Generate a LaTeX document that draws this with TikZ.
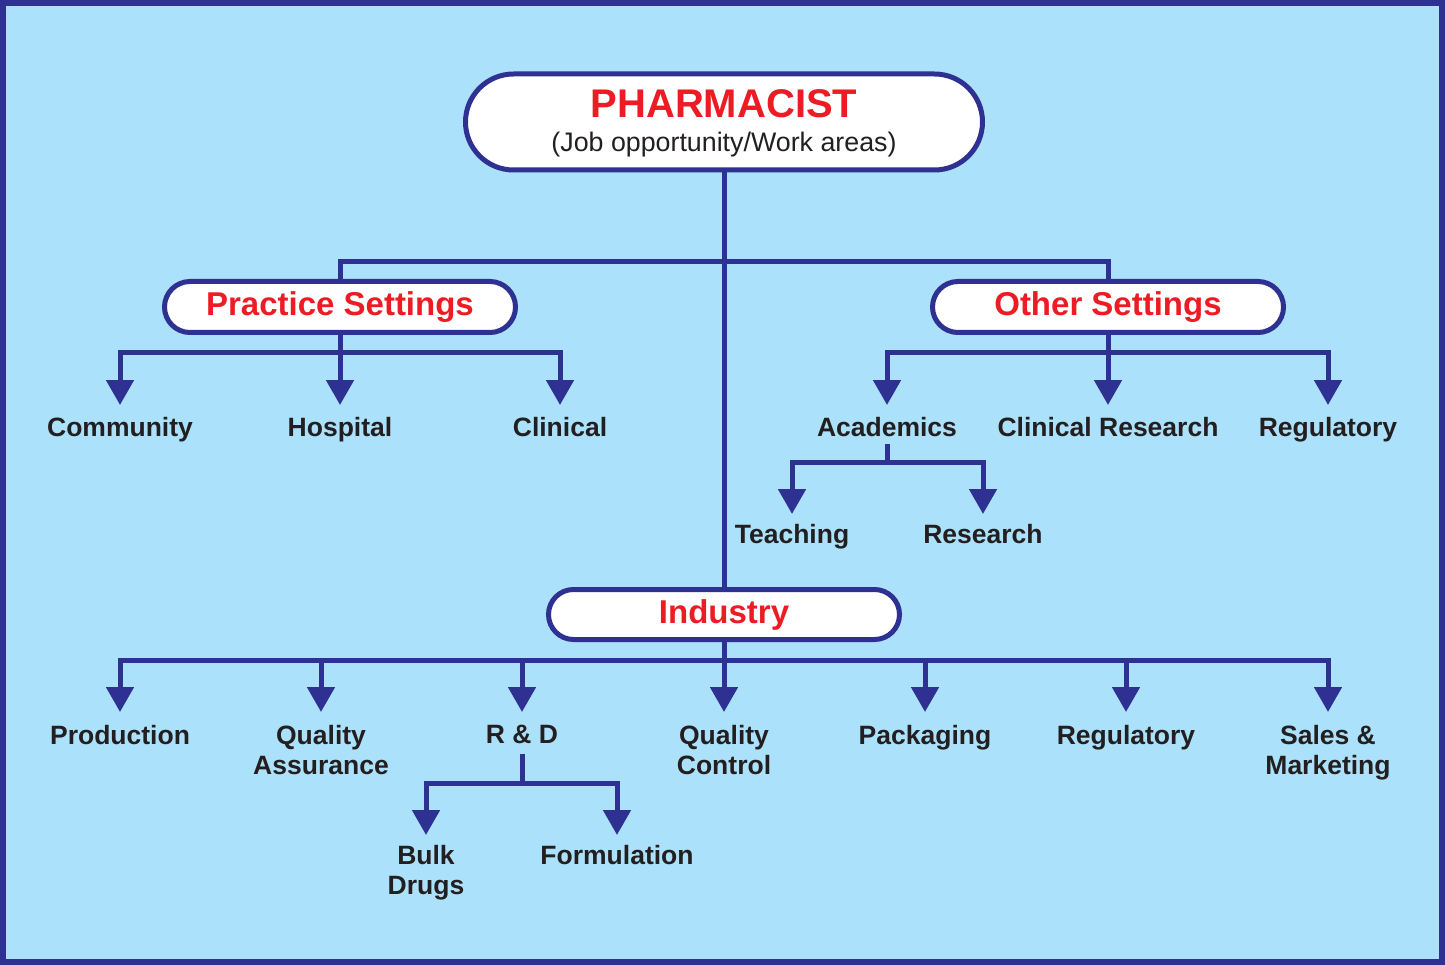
\documentclass[tikz,border=0pt]{standalone}
\usepackage{fontspec}
\setmainfont{Liberation Sans}
\usetikzlibrary{arrows.meta}
\definecolor{bgblue}{HTML}{ABE1FA}
\definecolor{navy}{HTML}{2E3192}
\definecolor{hred}{HTML}{ED1C24}
\definecolor{txt}{HTML}{231F20}
\tikzset{
  pill/.style={draw=navy, line width=5pt, fill=white, inner sep=0pt},
  head/.style={text=hred, font=\fontsize{33}{36}\selectfont\bfseries},
  lab/.style={text=txt, font=\fontsize{26.5}{30}\selectfont\bfseries, align=center, inner sep=0pt, outer sep=0pt, anchor=north},
  wire/.style={draw=navy, line width=5pt},
  arr/.style={wire, -{Triangle[width=27pt,length=25pt]}, shorten >=12pt}
}
\begin{document}
\begin{tikzpicture}[x=1pt,y=-1pt]
\useasboundingbox (0,0) rectangle (1445,965);
\fill[bgblue] (0,0) rectangle (1445,965);
\draw[navy, line width=6pt] (3,3) rectangle (1442,962);

% boxes
\node[pill, minimum width=517pt, minimum height=96pt, rounded corners=48pt] (pharm) at (724,122) {};
\node[text=hred, font=\fontsize{40}{44}\selectfont\bfseries, anchor=base] (pharmt) at (724,118) {PHARMACIST};
\node[text=txt, font=\fontsize{26.8}{30}\selectfont, anchor=base] (pharms) at (724,152) {(Job opportunity/Work areas)};

\node[pill, head, minimum width=351pt, minimum height=51pt, rounded corners=25.5pt] (prac) at (340,307) {Practice Settings};
\node[pill, head, minimum width=351pt, minimum height=51pt, rounded corners=25.5pt] (other) at (1108,307) {Other Settings};
\node[pill, head, minimum width=351pt, minimum height=50pt, rounded corners=25pt] (ind) at (724,614.5) {Industry};

% labels row 1
\node[lab] (comm) at (120,417) {Community};
\node[lab] (hosp) at (340,417) {Hospital};
\node[lab] (clin) at (560,417) {Clinical};
\node[lab] (acad) at (887,417) {Academics};
\node[lab] (cres) at (1108,417) {Clinical Research};
\node[lab] (reg1) at (1328,417) {Regulatory};
\node[lab] (teach) at (792,524) {Teaching};
\node[lab] (res) at (983,524) {Research};

% industry row
\node[lab] (prod) at (120,725) {Production};
\node[lab] (qa) at (321,725) {Quality\\Assurance};
\node[lab] (rd) at (522,725) {R \& D};
\node[lab] (qc) at (724,725) {Quality\\Control};
\node[lab] (pack) at (925,725) {Packaging};
\node[lab] (reg2) at (1126,725) {Regulatory};
\node[lab] (sales) at (1328,725) {Sales \&\\Marketing};
\node[lab] (bulk) at (426,845) {Bulk\\Drugs};
\node[lab] (form) at (617,845) {Formulation};

% junctions
\coordinate (tj) at (724,262);
\coordinate (pj) at (340,353);
\coordinate (oj) at (1108,353);
\coordinate (aj) at (887,462);
\coordinate (ij) at (724,660);
\coordinate (rj) at (522,783);

% connectors
\draw[wire] (pharm.south) -- (ind.north);
\draw[wire] (tj) -| (prac.north);
\draw[wire] (tj) -| (other.north);

\draw[wire] (prac.south) -- (pj);
\draw[arr] (pj) -| (comm.north);
\draw[arr] (pj) -- (hosp.north);
\draw[arr] (pj) -| (clin.north);

\draw[wire] (other.south) -- (oj);
\draw[arr] (oj) -| (acad.north);
\draw[arr] (oj) -- (cres.north);
\draw[arr] (oj) -| (reg1.north);

\draw[wire] ([yshift=-8pt]acad.south) -- (aj);
\draw[arr, shorten >=10pt] (aj) -| (teach.north);
\draw[arr, shorten >=10pt] (aj) -| (res.north);

\draw[wire] (ind.south) -- (ij);
\draw[arr, shorten >=13pt] (ij) -| (prod.north);
\draw[arr, shorten >=13pt] (ij) -| (qa.north);
\draw[arr, shorten >=13pt] (ij) -| (rd.north);
\draw[arr, shorten >=13pt] (ij) -- (qc.north);
\draw[arr, shorten >=13pt] (ij) -| (pack.north);
\draw[arr, shorten >=13pt] (ij) -| (reg2.north);
\draw[arr, shorten >=13pt] (ij) -| (sales.north);

\draw[wire] ([yshift=-10pt]rd.south) -- (rj);
\draw[arr, shorten >=10pt] (rj) -| (bulk.north);
\draw[arr, shorten >=10pt] (rj) -| (form.north);
\end{tikzpicture}
\end{document}
